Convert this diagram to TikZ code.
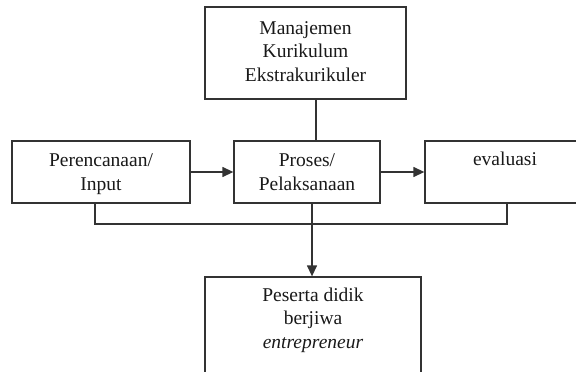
\documentclass[tikz,border=0pt]{standalone}
\usepackage{fontspec}
\setmainfont{Liberation Serif}
\usetikzlibrary{arrows.meta}
\begin{document}
\begin{tikzpicture}[x=1pt,y=-1pt,
  box/.style={draw=black!80, line width=1.3pt, rectangle, inner sep=0pt},
  lbl/.style={inner sep=0pt, align=center, anchor=base, text=black!90,
    font=\fontsize{19.5}{23.5}\selectfont},
  conn/.style={draw=black!80, line width=1.3pt},
  arr/.style={conn, -{Triangle[length=11pt,width=10pt]}}]
\clip (0,0) rectangle (576,372);
\useasboundingbox (0,0) rectangle (576,372);
% boxes
\node[box, minimum width=201pt, minimum height=92pt] (top) at (305.5,53) {};
\node[box, minimum width=178pt, minimum height=62pt] (left) at (101,172) {};
\node[box, minimum width=146pt, minimum height=62pt] (proses) at (307,172) {};
\node[box, minimum width=160pt, minimum height=62pt] (eval) at (505,172) {};
\node[box, minimum width=216pt, minimum height=123pt] (bottom) at (313,338.5) {};
% texts (anchor base = last line's baseline)
\node[lbl] (ttop) at (305.5,81) {Manajemen\\Kurikulum\\Ekstrakurikuler};
\node[lbl] (tleft) at (101,190) {Perencanaan/\\Input};
\node[lbl] (tproses) at (307,190) {Proses/\\Pelaksanaan};
\node[lbl] (teval) at (505,165) {evaluasi};
\node[lbl] (tbottom) at (313,348) {Peserta didik\\berjiwa\\\textit{entrepreneur}};
% connectors
\coordinate (c1) at ([xshift=10.5pt]top.south);
\draw[conn] (c1) -- (c1 |- proses.north);
\draw[arr] (left.east) -- (proses.west);
\draw[arr] (proses.east) -- (eval.west);
\coordinate (c2) at ([xshift=-6pt]left.south);
\coordinate (c4) at ([xshift=2pt]eval.south);
\coordinate (c3) at (95,224);
\draw[conn] (c2) -- (c3) -- (c3 -| c4) -- (c4);
\coordinate (c5) at ([xshift=5pt]proses.south);
\draw[arr] (c5) -- (c5 |- bottom.north);
\end{tikzpicture}
\end{document}
